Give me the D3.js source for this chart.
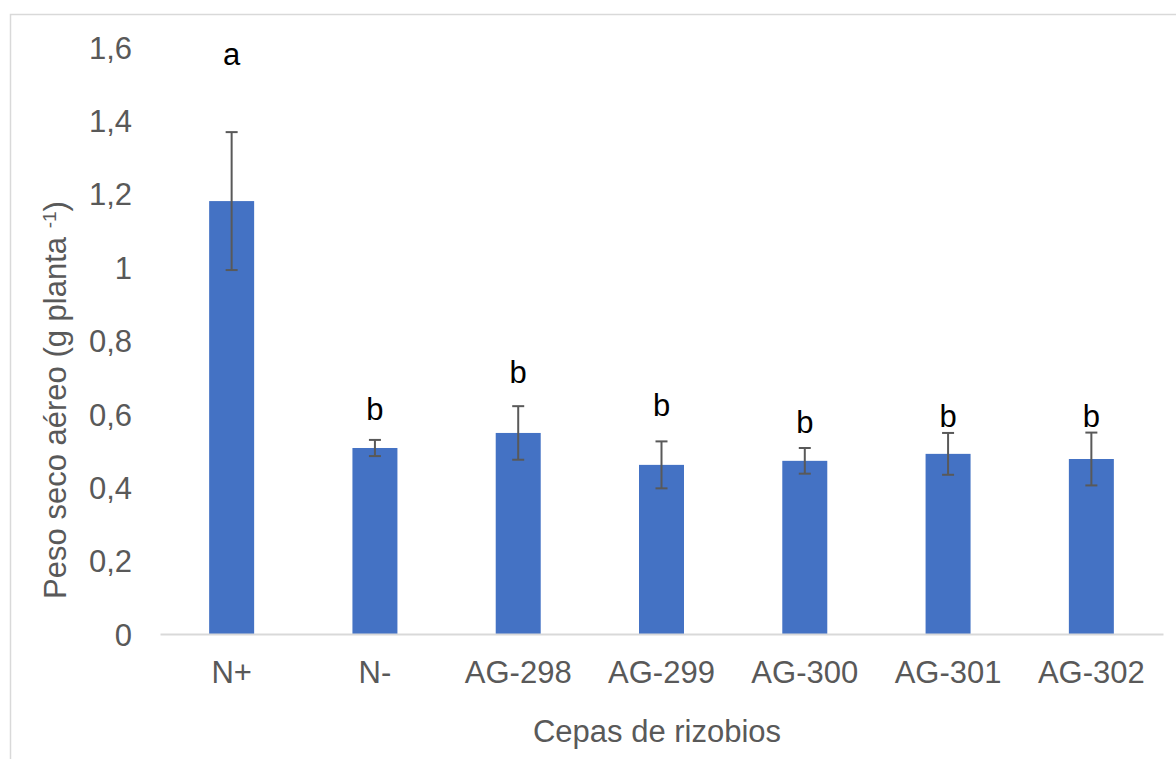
<!DOCTYPE html>
<html>
<head>
<meta charset="utf-8">
<script src="https://cdn.jsdelivr.net/npm/d3@7"></script>
<style>
  html, body { margin: 0; padding: 0; background: #ffffff; }
  svg { display: block; font-family: "Liberation Sans", Arial, sans-serif; }
</style>
</head>
<body>
<svg id="chart" width="1176" height="759"></svg>
<script>
const categories = ["N+", "N-", "AG-298", "AG-299", "AG-300", "AG-301", "AG-302"];
const values = [1.180, 0.507, 0.548, 0.461, 0.472, 0.491, 0.477];
const errors = [0.188, 0.022, 0.073, 0.064, 0.035, 0.057, 0.072];
const letters = ["a", "b", "b", "b", "b", "b", "b"];
const letterY = [1.551, 0.583, 0.684, 0.594, 0.548, 0.564, 0.564];
const yTicks = [0, 0.2, 0.4, 0.6, 0.8, 1.0, 1.2, 1.4, 1.6];
const yTickLabels = ["0", "0,2", "0,4", "0,6", "0,8", "1", "1,2", "1,4", "1,6"];
const xTitle = "Cepas de rizobios";
const yTitleMain = "Peso seco aéreo (g planta ";
const yTitleSup = "-1";
const yTitleEnd = ")";

const svg = d3.select("#chart");
const textColor = "#595959";

// chart frame
svg.append("rect")
  .attr("x", 10.5).attr("y", 14.5)
  .attr("width", 1200).attr("height", 800)
  .attr("fill", "#ffffff")
  .attr("stroke", "#d9d9d9").attr("stroke-width", 1.5);

const x = d3.scaleBand().domain(categories).range([160, 1163]).paddingInner(0.686).paddingOuter(0.343);
const y = d3.scaleLinear().domain([0, 1.6]).range([634, 47]);

// y tick labels
const yAxis = d3.axisLeft(y).tickValues(yTicks).tickSize(0).tickPadding(0)
  .tickFormat((d, i) => yTickLabels[i]);
const gy = svg.append("g").attr("transform", "translate(132,0)").call(yAxis);
gy.select(".domain").remove();
gy.selectAll("text").attr("fill", textColor).style("font-size", "31px")
  .style("font-family", '"Liberation Sans", Arial, sans-serif').attr("dy", "0.36em").attr("x", 0);

// bars
svg.append("g").selectAll("rect").data(categories).join("rect")
  .attr("x", d => x(d))
  .attr("y", (d, i) => y(values[i]))
  .attr("width", x.bandwidth())
  .attr("height", (d, i) => y(0) - y(values[i]))
  .attr("fill", "#4472c4");

// baseline axis
const xAxis = d3.axisBottom(x).tickSize(0).tickPadding(0);
const gx = svg.append("g").attr("transform", `translate(0,${y(0)})`).call(xAxis);
gx.select(".domain").attr("stroke", "#d9d9d9").attr("stroke-width", 2);
gx.selectAll("text").attr("fill", textColor).style("font-size", "31px")
  .style("font-family", '"Liberation Sans", Arial, sans-serif').attr("y", 49).attr("dy", 0);

// error bars
const eg = svg.append("g").attr("stroke", "#595959").attr("stroke-width", 2);
categories.forEach((c, i) => {
  const cx = x(c) + x.bandwidth() / 2;
  const top = y(values[i] + errors[i]);
  const bot = y(values[i] - errors[i]);
  eg.append("line").attr("x1", cx).attr("x2", cx).attr("y1", top).attr("y2", bot);
  eg.append("line").attr("x1", cx - 6).attr("x2", cx + 6).attr("y1", top).attr("y2", top);
  eg.append("line").attr("x1", cx - 6).attr("x2", cx + 6).attr("y1", bot).attr("y2", bot);
});

// significance letters
svg.append("g").selectAll("text").data(categories).join("text")
  .attr("x", d => x(d) + x.bandwidth() / 2)
  .attr("y", (d, i) => y(letterY[i]))
  .attr("text-anchor", "middle")
  .attr("fill", "#000000")
  .style("font-size", "31px")
  .text((d, i) => letters[i]);

// x title
svg.append("text")
  .attr("x", 657).attr("y", 742)
  .attr("text-anchor", "middle")
  .attr("fill", textColor)
  .style("font-size", "31px")
  .text(xTitle);

// y title
const yt = svg.append("text")
  .attr("transform", "translate(66,400) rotate(-90)")
  .attr("text-anchor", "middle")
  .attr("fill", textColor)
  .style("font-size", "31px");
yt.append("tspan").text(yTitleMain);
yt.append("tspan").attr("baseline-shift", "super").style("font-size", "19px").text(yTitleSup);
yt.append("tspan").text(yTitleEnd);
</script>
</body>
</html>
